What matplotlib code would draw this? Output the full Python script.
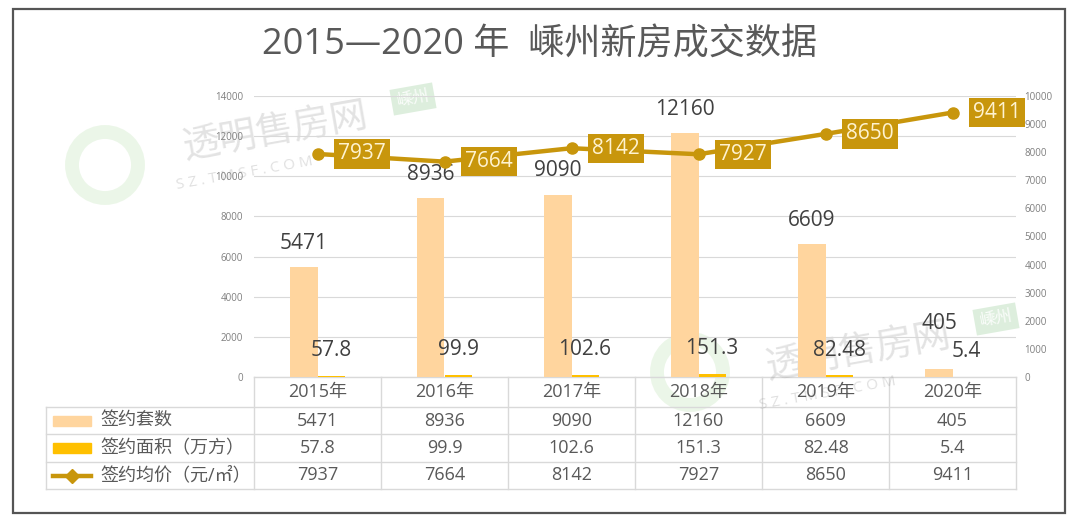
import matplotlib
matplotlib.use("Agg")
import matplotlib.pyplot as plt
from matplotlib.patches import Rectangle
import numpy as np

plt.rcParams['font.family'] = ['Open Sans', 'Noto Sans CJK SC', 'DejaVu Sans']

# ---- data ----
title = "2015—2020 年  嵊州新房成交数据"
years = ['2015年', '2016年', '2017年', '2018年', '2019年', '2020年']
units = [5471, 8936, 9090, 12160, 6609, 405]
area = [57.8, 99.9, 102.6, 151.3, 82.48, 5.4]
price = [7937, 7664, 8142, 7927, 8650, 9411]
series_names = ['签约套数', '签约面积（万方）', '签约均价（元/㎡）']
left_ticks = [0, 2000, 4000, 6000, 8000, 10000, 12000, 14000]
right_ticks = [0, 1000, 2000, 3000, 4000, 5000, 6000, 7000, 8000, 9000, 10000]

c_units = '#FFD59E'
c_area = '#FFC000'
c_line = '#C8960C'
c_text = '#595959'
c_grid = '#D9D9D9'

W, H = 1080, 526
fig = plt.figure(figsize=(W / 100, H / 100), dpi=100)
fig.patch.set_facecolor('white')

def fx(px):
    return px / W

def fy(py):
    return 1 - py / H

# overlay axes in pixel coordinates
ov = fig.add_axes([0, 0, 1, 1], zorder=0)
ov.set_xlim(0, W)
ov.set_ylim(H, 0)
ov.axis('off')

# border
ov.add_patch(Rectangle((13, 9), 1052, 504, fill=False, ec='#555555', lw=1.6))

# title
ov.text(540, 46, title, ha='center', va='center', fontsize=26, color=c_text)

# watermarks
wm_col = '#9a9a9a'
for (x, y) in [(275, 132), (858, 352)]:
    ov.text(x, y, '透明售房网', ha='center', va='center', fontsize=27,
            color=wm_col, alpha=0.28, rotation=10)
    ov.text(x + 138, y - 33, '嵊州', ha='center', va='center', fontsize=12,
            color='white', alpha=0.9, rotation=10,
            bbox=dict(boxstyle='square,pad=0.3', fc='#cfe8cf', ec='none', alpha=0.7))
    ov.text(x - 30, y + 42, 'S Z . T M S F . C O M', ha='center', va='center',
            fontsize=11, color=wm_col, alpha=0.3, rotation=10)
for (x, y) in [(105, 165), (690, 372)]:
    ov.add_patch(plt.Circle((x, y), 33, fill=False, ec='#bfe3b4', lw=10, alpha=0.3))

# ---- main axes ----
ax_l, ax_r = 254, 1016
ax_t, ax_b = 96, 377
ax = fig.add_axes([fx(ax_l), fy(ax_b), fx(ax_r - ax_l), (ax_b - ax_t) / H], zorder=2)
ax.patch.set_alpha(0)
x = np.arange(len(years))
bw = 0.213
ax.bar(x - bw / 2, units, width=bw, color=c_units, zorder=2)
ax.bar(x + bw / 2, area, width=bw, color=c_area, zorder=2)
ax.set_xlim(-0.5, len(years) - 0.5)
ax.set_ylim(0, 14000)
ax.set_yticks(left_ticks)
ax.set_yticklabels([str(t) for t in left_ticks], fontsize=7, color='#7f7f7f')
ax.tick_params(axis='y', length=0, pad=8)
ax.set_xticks([])
ax.grid(axis='y', color=c_grid, lw=0.8, zorder=0)
for s in ax.spines.values():
    s.set_visible(False)

units_dy = [17, 17, 17, 17, 17, 33]
for i in range(len(years)):
    ax.annotate(str(units[i]), (x[i] - bw / 2, units[i]), xytext=(0, units_dy[i]),
                textcoords='offset points', ha='center', va='center',
                fontsize=15, color='#404040', zorder=5)
    ax.annotate(str(area[i]), (x[i] + bw / 2, area[i]), xytext=(0, 18),
                textcoords='offset points', ha='center', va='center',
                fontsize=15, color='#404040', zorder=5)

ax2 = ax.twinx()
ax2.set_zorder(3)
ax2.set_ylim(0, 10000)
ax2.plot(x, price, color=c_line, lw=3.2, marker='o', ms=8, zorder=4)
ax2.set_yticks(right_ticks)
ax2.set_yticklabels([str(t) for t in right_ticks], fontsize=7, color='#7f7f7f')
ax2.tick_params(axis='y', length=0, pad=6)
for s in ax2.spines.values():
    s.set_visible(False)
for i in range(len(years)):
    ax2.annotate(str(price[i]), (x[i], price[i]), xytext=(32, 0),
                 textcoords='offset points', ha='center', va='center',
                 fontsize=15, color='#FFF3D0', zorder=6,
                 bbox=dict(boxstyle='square,pad=0.2', fc=c_line, ec='none'))

# ---- data table ----
col_edges = [254 + 127 * i for i in range(len(years) + 1)]
rows = [377, 407, 434, 462, 489]
leg_left = 46
lc = '#D9D9D9'
ov.plot([col_edges[0], col_edges[-1]], [rows[0], rows[0]], color=lc, lw=1)
for r in rows[1:]:
    ov.plot([leg_left, col_edges[-1]], [r, r], color=lc, lw=1)
for ce in col_edges:
    ov.plot([ce, ce], [rows[0], rows[-1]], color=lc, lw=1)
ov.plot([leg_left, leg_left], [rows[1], rows[-1]], color=lc, lw=1)

tfs = 13
for i, yl in enumerate(years):
    cx = (col_edges[i] + col_edges[i + 1]) / 2
    ov.text(cx, (rows[0] + rows[1]) / 2, yl, ha='center', va='center', fontsize=tfs, color=c_text)
    ov.text(cx, (rows[1] + rows[2]) / 2, str(units[i]), ha='center', va='center', fontsize=tfs, color=c_text)
    ov.text(cx, (rows[2] + rows[3]) / 2, str(area[i]), ha='center', va='center', fontsize=tfs, color=c_text)
    ov.text(cx, (rows[3] + rows[4]) / 2, str(price[i]), ha='center', va='center', fontsize=tfs, color=c_text)

# legend keys
for k, name in enumerate(series_names):
    cy = (rows[k + 1] + rows[k + 2]) / 2
    if k == 0:
        ov.add_patch(Rectangle((53, cy - 5), 38, 10, color=c_units))
    elif k == 1:
        ov.add_patch(Rectangle((53, cy - 5), 38, 10, color=c_area))
    else:
        ov.plot([53, 91], [cy, cy], color=c_line, lw=3.2)
        ov.plot([72], [cy], marker='D', ms=7, color=c_line)
    ov.text(100, cy, name, ha='left', va='center', fontsize=tfs, color=c_text)

fig.savefig('out.png', dpi=100, facecolor='white')
